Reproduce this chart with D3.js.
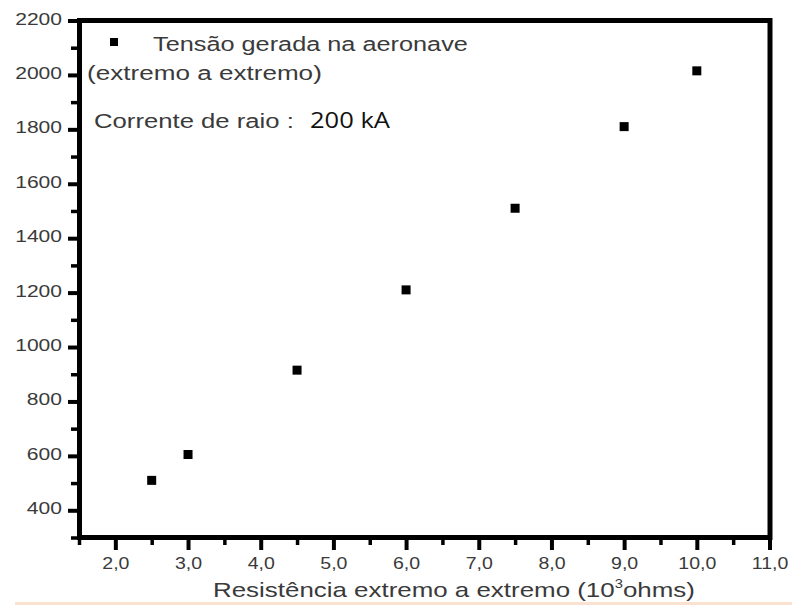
<!DOCTYPE html>
<html><head><meta charset="utf-8">
<script src="https://cdn.jsdelivr.net/npm/d3@7"></script>
<style>body{margin:0;background:#fff;} svg{display:block;}</style>
</head><body>
<svg id="chart" width="792" height="605"></svg>
<script>
// ---- data ----
const xValues = [2.5, 3.0, 4.5, 6.0, 7.5, 9.0, 10.0];
const yValues = [510, 605, 915, 1210, 1510, 1810, 2015];
const xMajorTicks = [2, 3, 4, 5, 6, 7, 8, 9, 10, 11];
const xMinorTicks = [1.5, 2.5, 3.5, 4.5, 5.5, 6.5, 7.5, 8.5, 9.5, 10.5];
const yMajorTicks = [400, 600, 800, 1000, 1200, 1400, 1600, 1800, 2000, 2200];
const yMinorTicks = [300, 500, 700, 900, 1100, 1300, 1500, 1700, 1900, 2100];
const legendLabel = "Tensão gerada na aeronave";
const legendLabel2 = "(extremo a extremo)";
const noteLabel = "Corrente de raio  :";
const noteValue = "200 kA";
const xTitleParts = ["Resistência extremo a extremo (10", "3", "ohms)"];

// ---- layout ----
const svg = d3.select("#chart");
const L = 79.5, R = 770, T = 20.5, B = 537.5;
const x = d3.scaleLinear().domain([1.5, 11]).range([79, 769.5]);
const y = d3.scaleLinear().domain([300, 2200]).range([B, T]);
const gray = "#3a3a3a";
const font = "'Liberation Sans', Arial, sans-serif";
const loc = d3.formatLocale({decimal: ",", thousands: ".", grouping: [3], currency: ["", ""]});
const fx = loc.format(".1f");

svg.append("rect").attr("x", 0).attr("y", 0).attr("width", 792).attr("height", 605).attr("fill", "#fff");
// peach strip at bottom
svg.append("rect").attr("x", 15).attr("y", 602).attr("width", 777).attr("height", 3).attr("fill", "#fbe1cf");

// ---- axes ----
const sxY = 1.24, sxX = 1.22;
const yMajor = svg.append("g").attr("transform", `translate(${L},0)`)
  .call(d3.axisLeft(y).tickValues(yMajorTicks).tickSize(11.5).tickSizeOuter(0).tickFormat(d3.format("d")));
yMajor.select(".domain").remove();
yMajor.selectAll(".tick line").attr("stroke", "#000").attr("stroke-width", 4);
yMajor.selectAll(".tick text")
  .attr("font-family", font).attr("font-size", 17).attr("fill", gray)
  .attr("text-anchor", "end").attr("dy", 0).attr("y", 3.5)
  .attr("x", -17.5 / sxY).attr("transform", `scale(${sxY},1)`);

const yMinor = svg.append("g").attr("transform", `translate(${L},0)`)
  .call(d3.axisLeft(y).tickValues(yMinorTicks).tickSize(8.5).tickSizeOuter(0).tickFormat(""));
yMinor.select(".domain").remove();
yMinor.selectAll(".tick line").attr("stroke", "#000").attr("stroke-width", 3.5);

const xMajor = svg.append("g").attr("transform", `translate(0,${B})`)
  .call(d3.axisBottom(x).tickValues(xMajorTicks).tickSize(12.5).tickSizeOuter(0).tickFormat(fx));
xMajor.select(".domain").remove();
xMajor.selectAll(".tick line").attr("stroke", "#000").attr("stroke-width", 4);
xMajor.selectAll(".tick text")
  .attr("font-family", font).attr("font-size", 16).attr("fill", gray)
  .attr("dy", 0).attr("y", 31.5).attr("x", 0).attr("transform", `scale(${sxX},1)`);

const xMinor = svg.append("g").attr("transform", `translate(0,${B})`)
  .call(d3.axisBottom(x).tickValues(xMinorTicks).tickSize(7.5).tickSizeOuter(0).tickFormat(""));
xMinor.select(".domain").remove();
xMinor.selectAll(".tick line").attr("stroke", "#000").attr("stroke-width", 3.5);

// frame
svg.append("rect").attr("x", L).attr("y", T).attr("width", R - L).attr("height", B - T)
  .attr("fill", "none").attr("stroke", "#000").attr("stroke-width", 5);

// ---- points ----
svg.append("g").selectAll("rect").data(xValues.map((v, i) => [v, yValues[i]])).join("rect")
  .attr("x", d => x(d[0]) - 4.5).attr("y", d => y(d[1]) - 4.5)
  .attr("width", 9).attr("height", 9).attr("fill", "#000");

// ---- text helper: stretch to measured width ----
function stretchText(parts, px, py, width, size, color, family) {
  const g = svg.append("g");
  const t = g.append("text").attr("font-family", family).attr("font-size", size).attr("fill", color);
  parts.forEach(p => {
    const ts = t.append("tspan").text(p.text);
    if (p.dy) ts.attr("dy", p.dy);
    if (p.size) ts.attr("font-size", p.size);
  });
  const w = t.node().getComputedTextLength();
  g.attr("transform", `translate(${px},${py}) scale(${width / w},1)`);
  return g;
}

// legend
svg.append("rect").attr("x", 110).attr("y", 38).attr("width", 8).attr("height", 8).attr("fill", "#000");
stretchText([{text: legendLabel}], 153, 51, 315, 21, gray, font);
stretchText([{text: legendLabel2}], 87, 80, 235, 21, gray, font);
stretchText([{text: noteLabel}], 94, 128, 200, 21, gray, font);
stretchText([{text: noteValue}], 310, 128, 80, 22, "#111", "'Open Sans', Lato, sans-serif");

// x axis title
stretchText([
  {text: xTitleParts[0]},
  {text: xTitleParts[1], dy: -9, size: 12},
  {text: xTitleParts[2], dy: 9}
], 213, 597, 482, 21, gray, font);
</script>
</body></html>
